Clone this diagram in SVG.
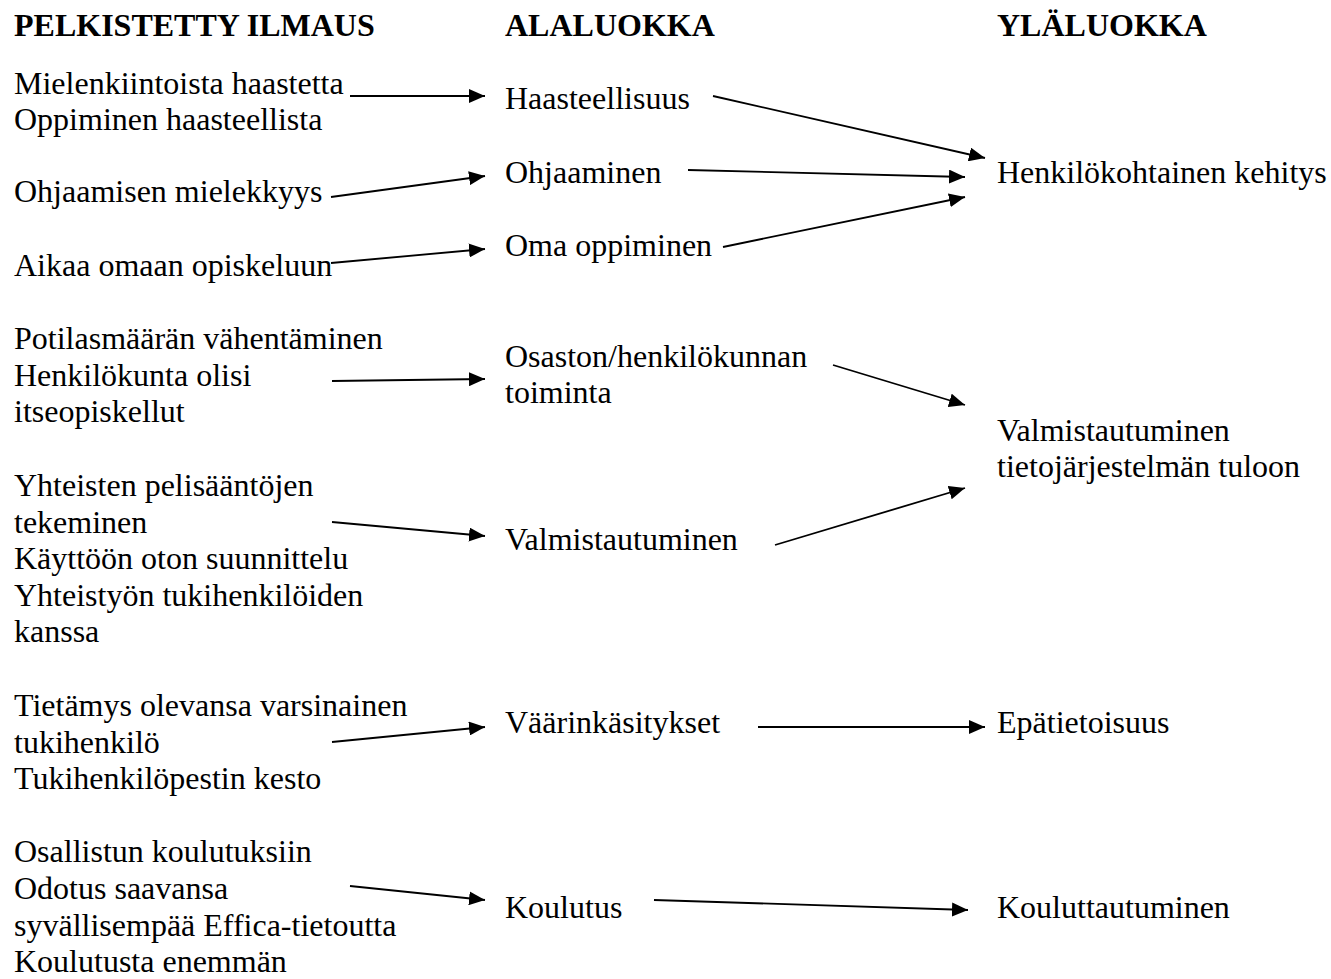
<svg xmlns="http://www.w3.org/2000/svg" width="1331" height="979" viewBox="0 0 1331 979">
  <style>
    text { font-family: "Liberation Serif", "Times New Roman", serif; font-size: 32px; fill: #000; }
    .hdr { font-weight: bold; }
    .edge { stroke: #000; stroke-width: 1.8; fill: none; marker-end: url(#arrow); }
  </style>
  <defs>
    <marker id="arrow" markerUnits="userSpaceOnUse" markerWidth="17" markerHeight="14" refX="16" refY="7" orient="auto">
      <path d="M0,0 L16,7 L0,14 z" fill="#000"/>
    </marker>
  </defs>
  <rect width="1331" height="979" fill="#fff"/>

  <!-- column headings -->
  <g id="headings">
    <text class="hdr" x="14" y="36">PELKISTETTY ILMAUS</text>
    <text class="hdr" x="505" y="36">ALALUOKKA</text>
    <text class="hdr" x="997" y="36">YLÄLUOKKA</text>
  </g>

  <!-- simplified expressions -->
  <g id="expr-haaste">
    <text x="14" y="94">Mielenkiintoista haastetta</text>
    <text x="14" y="130">Oppiminen haasteellista</text>
  </g>
  <g id="expr-ohjaus">
    <text x="14" y="202">Ohjaamisen mielekkyys</text>
  </g>
  <g id="expr-aika">
    <text x="14" y="276">Aikaa omaan opiskeluun</text>
  </g>
  <g id="expr-potilas">
    <text x="14" y="349">Potilasmäärän vähentäminen</text>
    <text x="14" y="386">Henkilökunta olisi</text>
    <text x="14" y="422">itseopiskellut</text>
  </g>
  <g id="expr-pelisaannot">
    <text x="14" y="496">Yhteisten pelisääntöjen</text>
    <text x="14" y="533">tekeminen</text>
    <text x="14" y="569">Käyttöön oton suunnittelu</text>
    <text x="14" y="606">Yhteistyön tukihenkilöiden</text>
    <text x="14" y="642">kanssa</text>
  </g>
  <g id="expr-tietamys">
    <text x="14" y="716">Tietämys olevansa varsinainen</text>
    <text x="14" y="753">tukihenkilö</text>
    <text x="14" y="789">Tukihenkilöpestin kesto</text>
  </g>
  <g id="expr-koulutus">
    <text x="14" y="862">Osallistun koulutuksiin</text>
    <text x="14" y="899">Odotus saavansa</text>
    <text x="14" y="936">syvällisempää Effica-tietoutta</text>
    <text x="14" y="972">Koulutusta enemmän</text>
  </g>

  <!-- subcategories -->
  <g id="sub-haasteellisuus"><text x="505" y="109">Haasteellisuus</text></g>
  <g id="sub-ohjaaminen"><text x="505" y="183">Ohjaaminen</text></g>
  <g id="sub-oma-oppiminen"><text x="505" y="256">Oma oppiminen</text></g>
  <g id="sub-osasto">
    <text x="505" y="367">Osaston/henkilökunnan</text>
    <text x="505" y="403">toiminta</text>
  </g>
  <g id="sub-valmistautuminen"><text x="505" y="550">Valmistautuminen</text></g>
  <g id="sub-vaarinkasitykset"><text x="505" y="733">Väärinkäsitykset</text></g>
  <g id="sub-koulutus"><text x="505" y="918">Koulutus</text></g>

  <!-- main categories -->
  <g id="main-kehitys"><text x="997" y="183">Henkilökohtainen kehitys</text></g>
  <g id="main-valmistautuminen">
    <text x="997" y="441">Valmistautuminen</text>
    <text x="997" y="477">tietojärjestelmän tuloon</text>
  </g>
  <g id="main-epatietoisuus"><text x="997" y="733">Epätietoisuus</text></g>
  <g id="main-kouluttautuminen"><text x="997" y="918">Kouluttautuminen</text></g>

  <!-- connectors -->
  <g id="connectors">
    <line class="edge" x1="350" y1="96" x2="485" y2="96"/>
    <line class="edge" x1="331" y1="197" x2="485" y2="176"/>
    <line class="edge" x1="331" y1="263" x2="485" y2="249"/>
    <line class="edge" x1="332" y1="381" x2="485" y2="379"/>
    <line class="edge" x1="332" y1="522" x2="485" y2="536"/>
    <line class="edge" x1="332" y1="742" x2="485" y2="727"/>
    <line class="edge" x1="350" y1="886" x2="485" y2="900"/>

    <line class="edge" x1="713" y1="96" x2="985" y2="158"/>
    <line class="edge" x1="688" y1="170" x2="965" y2="177"/>
    <line class="edge" x1="723" y1="247" x2="965" y2="197"/>
    <line class="edge" x1="833" y1="365" x2="965" y2="405"/>
    <line class="edge" x1="775" y1="545" x2="965" y2="488"/>
    <line class="edge" x1="758" y1="727" x2="985" y2="727"/>
    <line class="edge" x1="654" y1="900" x2="968" y2="910"/>
  </g>
</svg>
